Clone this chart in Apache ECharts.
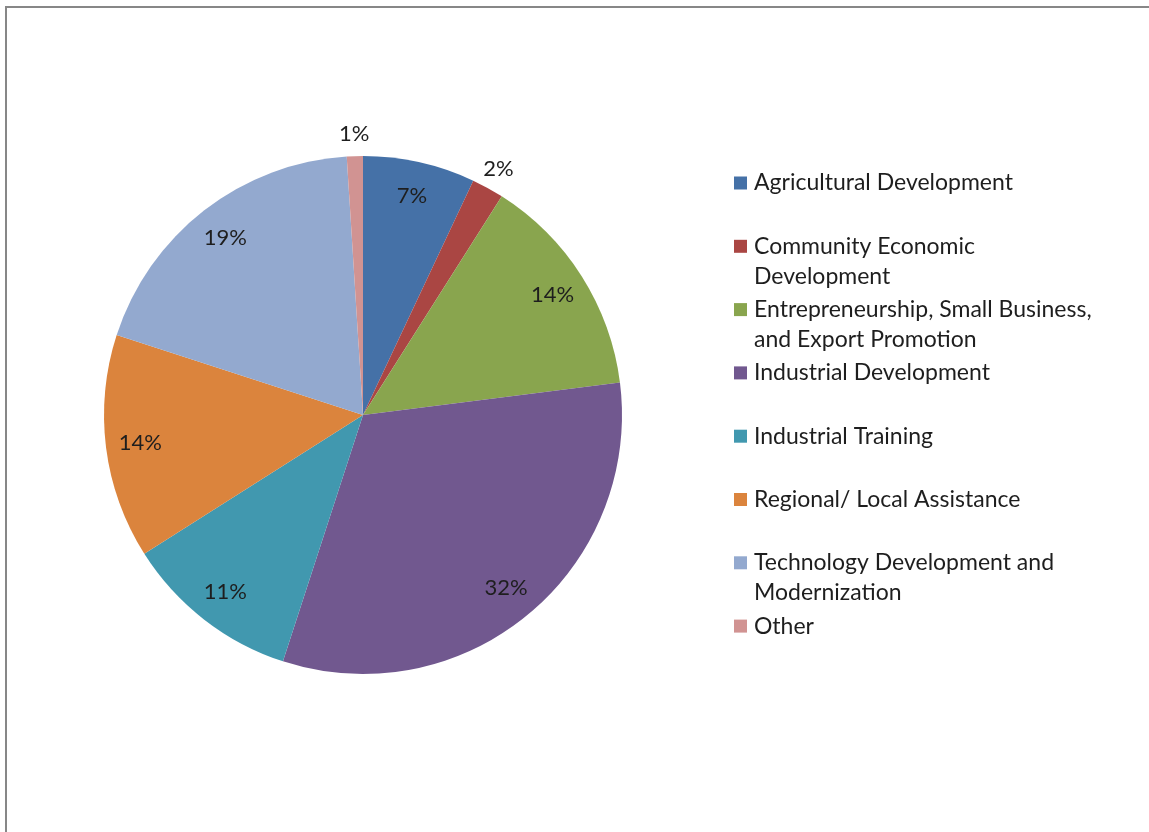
<!DOCTYPE html>
<html>
<head>
<meta charset="utf-8">
<title>Program Spending by Category</title>
<script src="https://cdn.jsdelivr.net/npm/echarts@6/dist/echarts.min.js"></script>
<style>
  html, body { margin: 0; padding: 0; background: #fff; }
  #chart { width: 1149px; height: 832px; }
</style>
</head>
<body>
<div id="chart"></div>
<script>
// Categories, in clockwise order from twelve o'clock
const categories = [
  'Agricultural Development',
  'Community Economic Development',
  'Entrepreneurship, Small Business, and Export Promotion',
  'Industrial Development',
  'Industrial Training',
  'Regional/ Local Assistance',
  'Technology Development and Modernization',
  'Other'
];
// Share of total, percent
const shares = [7, 2, 14, 32, 11, 14, 19, 1];
// Legend text with its line breaks
const legendLabels = [
  'Agricultural Development',
  'Community Economic\nDevelopment',
  'Entrepreneurship, Small Business,\nand Export Promotion',
  'Industrial Development',
  'Industrial Training',
  'Regional/ Local Assistance',
  'Technology Development and\nModernization',
  'Other'
];
// Slices this small get their label just outside the rim
const outsideLabel = [false, true, false, false, false, false, false, true];
const colors = ['#4571A7', '#AA4643', '#89A54E', '#71588F', '#4198AF', '#DB843D', '#93A9CF', '#D19392'];

const FONT = 'Lato, "Noto Sans", sans-serif';
const TEXT = '#1e1e1e';
const CX = 363, CY = 415, R = 259;

const chart = echarts.init(document.getElementById('chart'), null, { renderer: 'canvas' });

// One legend block per category so every entry starts on an even step.
// The swatch is centred on the text block, so wrapped entries get one blank
// line on top: that keeps their first line level with the swatch.
const LEG_X = 734, LEG_Y0 = 183, LEG_STEP = 63.3, LINE_H = 30;
const legends = categories.map((name, i) => {
  const lines = legendLabels[i].split('\n').length;
  const shown = lines > 1 ? '\n' + legendLabels[i] : legendLabels[i];
  const boxLines = lines > 1 ? lines + 1 : lines;
  return {
    orient: 'vertical',
    left: LEG_X,
    top: LEG_Y0 + i * LEG_STEP - (boxLines * LINE_H) / 2,
    itemWidth: 13,
    itemHeight: 13,
    icon: 'rect',
    selectedMode: false,
    padding: 0,
    data: [name],
    formatter: () => shown,
    textStyle: {
      fontFamily: FONT,
      fontSize: 23,
      color: TEXT,
      lineHeight: LINE_H,
      padding: [0, 0, 0, 2]
    }
  };
});

const hidden = 'rgba(0,0,0,0)';
const pctLabel = {
  show: true,
  position: 'inside',
  formatter: '{c}%',
  fontFamily: FONT,
  fontSize: 22,
  color: TEXT
};

chart.setOption({
  animation: false,
  color: colors,
  graphic: [{
    type: 'rect',
    shape: { x: 6, y: 7, width: 1300, height: 1000 },
    style: { fill: 'none', stroke: '#878787', lineWidth: 2 },
    silent: true,
    z: -10
  }],
  legend: legends,
  series: [
    {
      // The slices themselves
      name: 'share',
      type: 'pie',
      center: [CX, CY],
      radius: [0, R],
      startAngle: 90,
      clockwise: true,
      label: { show: false },
      labelLine: { show: false },
      itemStyle: { borderWidth: 0 },
      emphasis: { disabled: true },
      data: categories.map((name, i) => ({ name, value: shares[i] }))
    },
    {
      // Percent labels near the rim, inside the larger slices
      name: 'labels-in',
      type: 'pie',
      center: [CX, CY],
      radius: [184, R],
      startAngle: 90,
      clockwise: true,
      silent: true,
      legendHoverLink: false,
      emphasis: { disabled: true },
      labelLine: { show: false },
      itemStyle: { color: hidden, borderWidth: 0 },
      label: pctLabel,
      data: categories.map((name, i) => ({
        name, value: shares[i],
        label: { show: !outsideLabel[i] }
      }))
    },
    {
      // Percent labels just outside the thin slices
      name: 'labels-out',
      type: 'pie',
      center: [CX, CY],
      radius: [R, R + 38],
      startAngle: 90,
      clockwise: true,
      silent: true,
      legendHoverLink: false,
      emphasis: { disabled: true },
      labelLine: { show: false },
      itemStyle: { color: hidden, borderWidth: 0 },
      label: pctLabel,
      data: categories.map((name, i) => ({
        name, value: shares[i],
        label: { show: outsideLabel[i] }
      }))
    }
  ]
});
</script>
</body>
</html>
